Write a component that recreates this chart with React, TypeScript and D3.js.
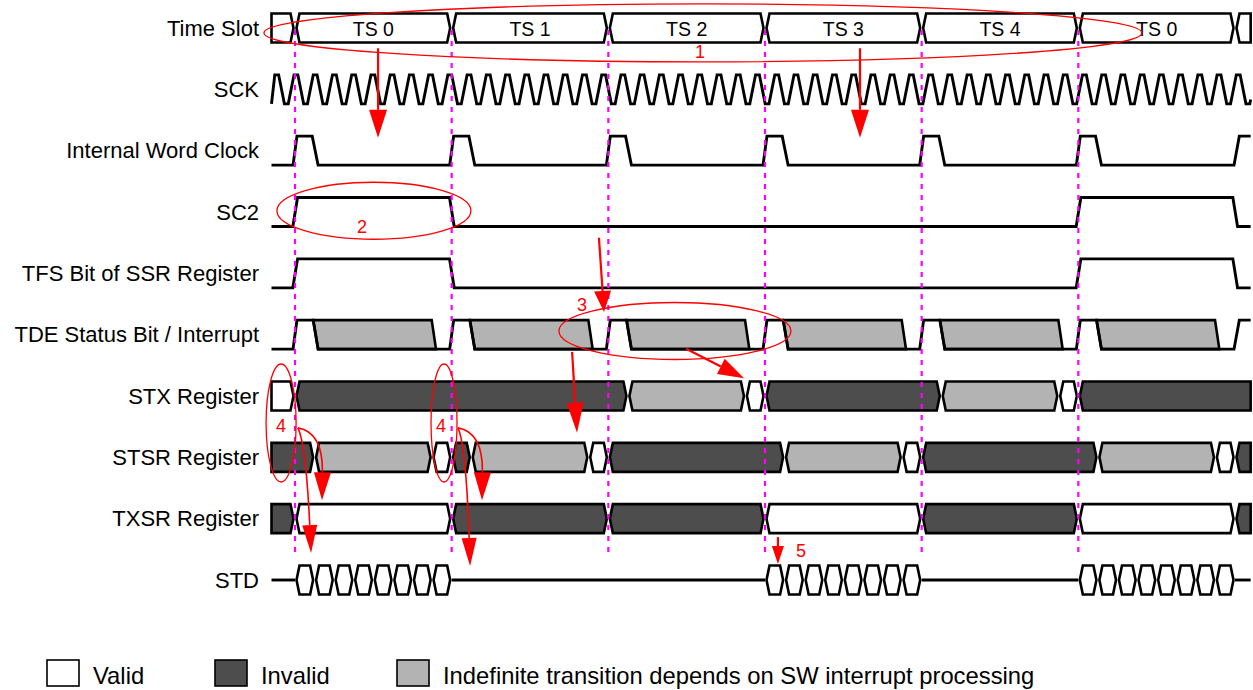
import React from 'react';
import * as d3 from 'd3';

const W = 1253;
const H = 690;
const T_START = -1.2;
const T_END = 48.8;

const signalNames = [
  'Time Slot',
  'SCK',
  'Internal Word Clock',
  'SC2',
  'TFS Bit of SSR Register',
  'TDE Status Bit / Interrupt',
  'STX Register',
  'STSR Register',
  'TXSR Register',
  'STD',
];

const slotLabels = ['', 'TS 0', 'TS 1', 'TS 2', 'TS 3', 'TS 4', 'TS 0', ''];
const slotBounds = [-1.2, 0, 8, 16, 24, 32, 40, 48, 48.8];
const markerLines = [0, 8, 16, 24, 32, 40];

// SCK clock
const sckFirstPeak = -0.934;
const sckPeriod = 0.982;
const sckPeakCount = 51;

// Internal word clock pulses
const iwcPulseStarts = [0, 8, 16, 24, 32, 40];
const iwcFinalRise = 48;

// SC2 / TFS: [time of edge, level after edge]
const sc2Edges: [number, number][] = [[0, 1], [8, 0], [40, 1], [48, 0]];
const tfsEdges: [number, number][] = [[0, 1], [8, 0], [40, 1], [48, 0]];

// TDE status bit
const tdeAssert = [0, 8, 16, 24, 32, 40];
const tdeFinalRise = 48;

// Bus segments: [start, end, state]  V = valid, I = invalid, G = indefinite
type Seg = [number, number, string];
const stxSegments: Seg[] = [
  [-1.2, 0, 'V'], [0, 17, 'I'], [17, 23, 'G'], [23, 24, 'V'],
  [24, 33, 'I'], [33, 39, 'G'], [39, 40, 'V'], [40, 48.8, 'I'],
];
const stsrSegments: Seg[] = [
  [-1.2, 1, 'I'], [1, 7, 'G'], [7, 8, 'V'], [8, 9, 'I'], [9, 15, 'G'], [15, 16, 'V'],
  [16, 25, 'I'], [25, 31, 'G'], [31, 32, 'V'], [32, 41, 'I'], [41, 47, 'G'], [47, 48, 'V'],
  [48, 48.8, 'I'],
];
const txsrSegments: Seg[] = [
  [-1.2, 0, 'I'], [0, 8, 'V'], [8, 16, 'I'], [16, 24, 'I'], [24, 32, 'V'],
  [32, 40, 'I'], [40, 48, 'V'], [48, 48.8, 'I'],
];
const stdBursts = [0, 24, 40];
const stdBitsPerBurst = 8;

const stateFill: Record<string, string> = { V: '#ffffff', I: '#4d4d4d', G: '#b3b3b3' };

const legendItems = [
  { state: 'V', label: 'Valid' },
  { state: 'I', label: 'Invalid' },
  { state: 'G', label: 'Indefinite transition depends on SW interrupt processing' },
];
const legendBoxX = [47, 215, 397];

// Annotations (time units, row units)
const annoEllipses = [
  { t: 20.83, r: 0.08, rx: 439, ry: 29 },
  { t: 4.03, r: 2.98, rx: 97, ry: 28.5 },
  { t: 19.4, r: 4.94, rx: 116, ry: 28.5 },
  { t: -0.71, r: 6.44, rx: 15, ry: 59 },
  { t: 7.61, r: 6.44, rx: 13, ry: 59 },
];
const annoLabels = [
  { t: 20.68, r: 0.39, text: '1' },
  { t: 3.42, r: 3.245, text: '2' },
  { t: 14.66, r: 4.52, text: '3' },
  { t: -0.71, r: 6.49, text: '4' },
  { t: 7.46, r: 6.49, text: '4' },
  { t: 25.84, r: 8.53, text: '5' },
];
const annoArrows = [
  { t1: 4.24, r1: 0.33, t2: 4.24, r2: 1.79, len: 28, wid: 18 },
  { t1: 28.85, r1: 0.33, t2: 28.85, r2: 1.79, len: 28, wid: 18 },
  { t1: 15.52, r1: 3.42, t2: 15.78, r2: 4.63, len: 21, wid: 17 },
  { t1: 19.97, r1: 5.23, t2: 22.93, r2: 5.71, len: 26, wid: 17 },
  { t1: 14.15, r1: 5.28, t2: 14.4, r2: 6.6, len: 30, wid: 17 },
  { t1: 24.66, r1: 8.3, t2: 24.66, r2: 8.74, len: 18, wid: 12 },
];
const annoCurves = [
  { t1: 0.15, r1: 6.52, ct: 1.43, cr: 6.59, t2: 1.38, r2: 7.7, len: 28, wid: 17 },
  { t1: 0.15, r1: 6.52, ct: 0.56, cr: 6.8, t2: 0.82, r2: 8.56, len: 28, wid: 15 },
  { t1: 8.32, r1: 6.52, ct: 9.6, cr: 6.59, t2: 9.55, r2: 7.7, len: 28, wid: 17 },
  { t1: 8.32, r1: 6.52, ct: 8.73, cr: 6.8, t2: 8.94, r2: 8.77, len: 28, wid: 15 },
];

const FONT = '"Liberation Sans", Arial, Helvetica, sans-serif';

export default function App() {
  const x = d3.scaleLinear().domain([0, 48]).range([295, 1235]);
  const y = d3.scaleLinear().domain([0, 9]).range([28, 580]);
  const HH = 14.5;
  const line = d3.line<[number, number]>();
  const yl = (row: number, lvl: number) => y(row) + (lvl ? -HH : HH);

  const busPoly = (t0: number, t1: number, row: number): [number, number][] => {
    const xa = x(t0), xb = x(t1), yc = y(row), top = yc - HH, bot = yc + HH;
    const d = 3.0, g = 1.5;
    const pts: [number, number][] = [];
    if (t0 <= T_START + 1e-6) pts.push([xa, bot], [xa, top]);
    else pts.push([xa + g + d, bot], [xa + g, yc], [xa + g + d, top]);
    if (t1 >= T_END - 1e-6) pts.push([xb, top], [xb, bot]);
    else pts.push([xb - g - d, top], [xb - g, yc], [xb - g - d, bot]);
    return pts;
  };
  const polyStr = (pts: [number, number][]) => line(pts) + 'Z';

  // SCK path
  const sckRow = 1;
  const sckPts: [number, number][] = [[x(T_START), yl(sckRow, 0)]];
  for (let k = 0; k < sckPeakCount; k++) {
    const p = sckFirstPeak + k * sckPeriod;
    const seq: [number, number][] = [
      [p - 0.1 * sckPeriod, 1],
      [p + 0.1 * sckPeriod, 1],
      [p + 0.4 * sckPeriod, 0],
      [p + 0.6 * sckPeriod, 0],
    ];
    for (const [t, l] of seq) if (t <= T_END) sckPts.push([x(t), yl(sckRow, l)]);
  }
  {
    const lastP = sckFirstPeak + (sckPeakCount - 1) * sckPeriod;
    const riseStart = lastP + 0.6 * sckPeriod;
    const frac = (T_END - riseStart) / (0.3 * sckPeriod);
    const lvY = yl(sckRow, 0) + (yl(sckRow, 1) - yl(sckRow, 0)) * Math.min(1, frac);
    sckPts.push([x(T_END), lvY]);
  }

  // IWC
  const iwcRow = 2;
  const iwcPts: [number, number][] = [[x(T_START), yl(iwcRow, 0)]];
  for (const s of iwcPulseStarts) {
    iwcPts.push([x(s - 0.1), yl(iwcRow, 0)], [x(s + 0.1), yl(iwcRow, 1)],
      [x(s + 0.88), yl(iwcRow, 1)], [x(s + 1.18), yl(iwcRow, 0)]);
  }
  iwcPts.push([x(iwcFinalRise - 0.05), yl(iwcRow, 0)], [x(iwcFinalRise + 0.22), yl(iwcRow, 1)], [x(T_END), yl(iwcRow, 1)]);

  const edgeWave = (row: number, edges: [number, number][]) => {
    let lvl = 0;
    const pts: [number, number][] = [[x(T_START), yl(row, 0)]];
    for (const [t, nl] of edges) {
      pts.push([x(t - 0.11), yl(row, lvl)], [x(t + 0.13), yl(row, nl)]);
      lvl = nl;
    }
    pts.push([x(T_END), yl(row, lvl)]);
    return pts;
  };

  // TDE
  const tdeRow = 5;
  const tdePts: [number, number][] = [[x(T_START), yl(tdeRow, 0)]];
  const tdeGray: [number, number][][] = [];
  for (const s of tdeAssert) {
    tdePts.push([x(s - 0.1), yl(tdeRow, 0)], [x(s + 0.1), yl(tdeRow, 1)],
      [x(s + 0.93), yl(tdeRow, 1)], [x(s + 1.18), yl(tdeRow, 0)], [x(s + 7.2), yl(tdeRow, 0)]);
    tdeGray.push([
      [x(s + 0.93), yl(tdeRow, 1)], [x(s + 6.98), yl(tdeRow, 1)],
      [x(s + 7.2), yl(tdeRow, 0)], [x(s + 1.18), yl(tdeRow, 0)],
    ]);
  }
  tdePts.push([x(tdeFinalRise - 0.05), yl(tdeRow, 0)], [x(tdeFinalRise + 0.22), yl(tdeRow, 1)], [x(T_END), yl(tdeRow, 1)]);

  // STD
  const stdRow = 9;
  const stdLines: [number, number][] = [];
  let cursor = T_START;
  for (const b of stdBursts) {
    stdLines.push([cursor, b]);
    cursor = b + stdBitsPerBurst;
  }
  stdLines.push([cursor, T_END]);
  const stdBits: number[] = [];
  for (const b of stdBursts) for (const i of d3.range(stdBitsPerBurst)) stdBits.push(b + i);

  const arrowHead = (bx: number, by: number, tx: number, ty: number, wid: number) => {
    const dx = tx - bx, dy = ty - by;
    const L = Math.hypot(dx, dy) || 1;
    const px = -dy / L, py = dx / L;
    return `M${tx},${ty}L${bx + px * wid / 2},${by + py * wid / 2}L${bx - px * wid / 2},${by - py * wid / 2}Z`;
  };

  const RED = '#ff0000';
  const lineW = 2.9;

  const busRows: [number, Seg[]][] = [[6, stxSegments], [7, stsrSegments], [8, txsrSegments]];

  return (
    <svg width={W} height={H} style={{ position: 'absolute', left: 0, top: 0, background: '#fff' }}
      fontFamily={FONT}>
      <rect x={0} y={0} width={W} height={H} fill="#fff" />
      {/* Signal names */}
      {signalNames.map((n, i) => (
        <text key={n} x={259} y={y(i)} textAnchor="end" dominantBaseline="central" fontSize={22} fill="#000">{n}</text>
      ))}

      {/* Time slot row */}
      {slotLabels.map((lab, i) => {
        const t0 = slotBounds[i], t1 = slotBounds[i + 1];
        return (
          <g key={'ts' + i}>
            <path d={polyStr(busPoly(t0, t1, 0))} fill="#fff" stroke="#000" strokeWidth={2.6} strokeLinejoin="miter" />
            {lab && (
              <text x={x((t0 + t1) / 2)} y={y(0) + 1} textAnchor="middle" dominantBaseline="central" fontSize={19.5}>{lab}</text>
            )}
          </g>
        );
      })}

      {/* SCK */}
      <path d={line(sckPts) || ''} fill="none" stroke="#000" strokeWidth={lineW} strokeLinejoin="miter" />
      {/* IWC */}
      <path d={line(iwcPts) || ''} fill="none" stroke="#000" strokeWidth={lineW} />
      {/* SC2 */}
      <path d={line(edgeWave(3, sc2Edges)) || ''} fill="none" stroke="#000" strokeWidth={lineW} />
      {/* TFS */}
      <path d={line(edgeWave(4, tfsEdges)) || ''} fill="none" stroke="#000" strokeWidth={lineW} />
      {/* TDE */}
      {tdeGray.map((g, i) => (
        <path key={'tg' + i} d={polyStr(g)} fill={stateFill.G} stroke="#000" strokeWidth={2.6} />
      ))}
      <path d={line(tdePts) || ''} fill="none" stroke="#000" strokeWidth={lineW} />

      {/* Bus registers */}
      {busRows.map(([row, segs]) => (
        <g key={'bus' + row}>
          {segs.map(([t0, t1, st], i) => (
            <path key={i} d={polyStr(busPoly(t0, t1, row))} fill={stateFill[st]} stroke="#000" strokeWidth={2.6} />
          ))}
        </g>
      ))}

      {/* STD */}
      {stdLines.map(([a, b], i) => (
        <line key={'sl' + i} x1={x(a)} x2={x(b)} y1={y(stdRow)} y2={y(stdRow)} stroke="#000" strokeWidth={lineW} />
      ))}
      {stdBits.map((b) => (
        <path key={'sb' + b} d={polyStr(busPoly(b, b + 1, stdRow))} fill="#fff" stroke="#000" strokeWidth={2.6} />
      ))}

      {/* Magenta dashed slot markers */}
      {markerLines.map((t) => (
        <line key={'m' + t} x1={x(t)} x2={x(t)} y1={30} y2={558} stroke="#ff00ff" strokeWidth={2.2} strokeDasharray="5 6" />
      ))}

      {/* Annotations */}
      {annoEllipses.map((e, i) => (
        <ellipse key={'e' + i} cx={x(e.t)} cy={y(e.r)} rx={e.rx} ry={e.ry} fill="none" stroke={RED} strokeWidth={1.3} />
      ))}
      {annoArrows.map((a, i) => {
        const x1 = x(a.t1), y1 = y(a.r1), tx = x(a.t2), ty = y(a.r2);
        const L = Math.hypot(tx - x1, ty - y1);
        const bx = tx - (tx - x1) / L * a.len, by = ty - (ty - y1) / L * a.len;
        return (
          <g key={'a' + i}>
            <line x1={x1} y1={y1} x2={bx} y2={by} stroke={RED} strokeWidth={2.2} />
            <path d={arrowHead(bx, by, tx, ty, a.wid)} fill={RED} />
          </g>
        );
      })}
      {annoCurves.map((c, i) => {
        const x1 = x(c.t1), y1 = y(c.r1), cx = x(c.ct), cy = y(c.cr), tx = x(c.t2), ty = y(c.r2);
        const L = Math.hypot(tx - cx, ty - cy);
        const bx = tx - (tx - cx) / L * c.len, by = ty - (ty - cy) / L * c.len;
        const p = d3.path();
        p.moveTo(x1, y1);
        p.quadraticCurveTo(cx, cy, bx, by);
        return (
          <g key={'c' + i}>
            <path d={p.toString()} fill="none" stroke={RED} strokeWidth={1.6} />
            <path d={arrowHead(bx, by, tx, ty, c.wid)} fill={RED} />
          </g>
        );
      })}
      {annoLabels.map((l, i) => (
        <text key={'l' + i} x={x(l.t)} y={y(l.r)} textAnchor="middle" dominantBaseline="central" fontSize={18} fill={RED}>{l.text}</text>
      ))}

      {/* Legend */}
      {legendItems.map((it, i) => (
        <g key={'lg' + i}>
          <rect x={legendBoxX[i]} y={660} width={32} height={26} fill={stateFill[it.state]} stroke="#000" strokeWidth={1.6} />
          <text x={legendBoxX[i] + 46} y={675} dominantBaseline="central" fontSize={23.8} fill="#000">{it.label}</text>
        </g>
      ))}
    </svg>
  );
}
